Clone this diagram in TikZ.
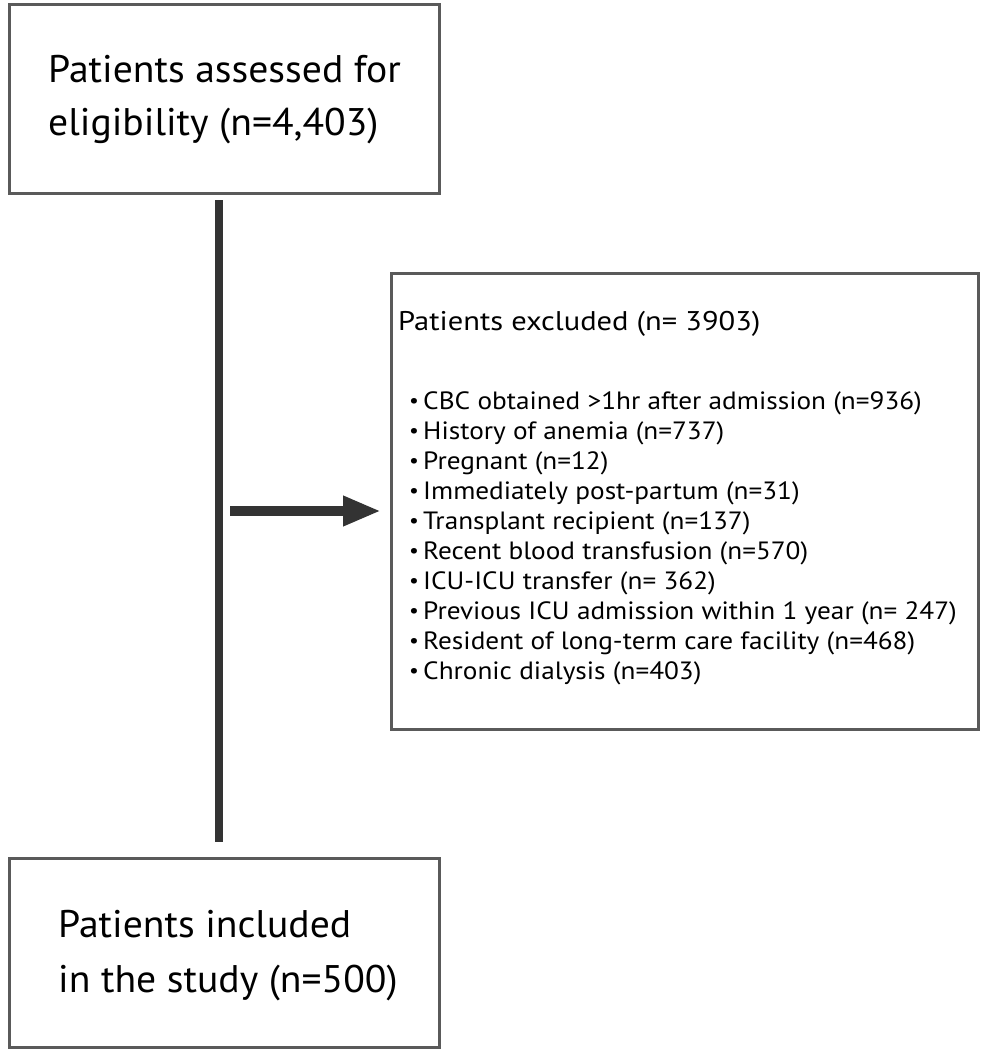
\documentclass[tikz,border=0pt]{standalone}
\usepackage{fontspec}
\setmainfont{PT Sans}
\newfontfamily\bigfont[FakeStretch=1.03]{PT Sans}
\newfontfamily\headfont[FakeStretch=1.13]{PT Sans}
\newfontfamily\smallfont[FakeStretch=1.09]{PT Sans}
\usetikzlibrary{arrows.meta}
\definecolor{boxgray}{HTML}{5A5A5A}
\definecolor{linegray}{HTML}{333333}
\begin{document}
\begin{tikzpicture}[x=1pt,y=-1pt,
  box/.style={draw=boxgray, line width=2.5pt, inner sep=0pt, anchor=north west},
  bigtext/.style={inner sep=0pt, anchor=base west, font=\bigfont\fontsize{38.5}{38.5}\selectfont, text=black},
  headtext/.style={inner sep=0pt, anchor=base west, font=\headfont\fontsize{27}{27}\selectfont, text=black},
  itemtext/.style={inner sep=0pt, anchor=base west, font=\smallfont\fontsize{25}{25}\selectfont, text=black},
  bullettext/.style={inner sep=0pt, anchor=base west, font=\smallfont\fontsize{20}{20}\selectfont, text=black},
  flow/.style={draw=linegray, line width=8pt},
  arrowline/.style={draw=linegray, line width=10pt, -{Triangle[length=38pt,width=28pt]}}
]
\useasboundingbox (0,0) rectangle (984,1050);
\fill[white] (0,0) rectangle (984,1050);

% boxes
\node[box, minimum width=430pt, minimum height=189pt] (top) at (8,3) {};
\node[box, minimum width=587pt, minimum height=456pt] (excl) at (390,272) {};
\node[box, minimum width=430pt, minimum height=189pt] (bottom) at (8,857) {};

% top box text
\node[bigtext] (t1) at (48,82) {Patients assessed for};
\node[bigtext] (t2) at (48,135) {eligibility (n=4,403)};

% bottom box text
\node[bigtext] (b1) at (58,937) {Patients included};
\node[bigtext] (b2) at (58,992) {in the study (n=500)};

% excluded box text
\node[headtext] (h) at (398,330) {Patients excluded (n= 3903)};
\foreach \i/\txt in {0/{CBC obtained >1hr after admission (n=936)},
                    1/{History of anemia (n=737)},
                    2/{Pregnant (n=12)},
                    3/{Immediately post-partum (n=31)},
                    4/{Transplant recipient (n=137)},
                    5/{Recent blood transfusion (n=570)},
                    6/{ICU-ICU transfer (n= 362)},
                    7/{Previous ICU admission within 1 year (n= 247)},
                    8/{Resident of long-term care facility (n=468)},
                    9/{Chronic dialysis (n=403)}}{
  \node[bullettext] (bul\i) at (409,407+30.1*\i) {\textbullet};
  \node[itemtext] (it\i) at (423,409+30.1*\i) {\txt};
}

% connectors
\coordinate (vtop) at (219,200);
\coordinate (vbot) at (219,842);
\draw[flow] (vtop) -- (vbot);
\coordinate (astart) at (230,511);
\draw[arrowline, shorten >=9pt] (astart) -- (astart -| excl.west);
\end{tikzpicture}
\end{document}
